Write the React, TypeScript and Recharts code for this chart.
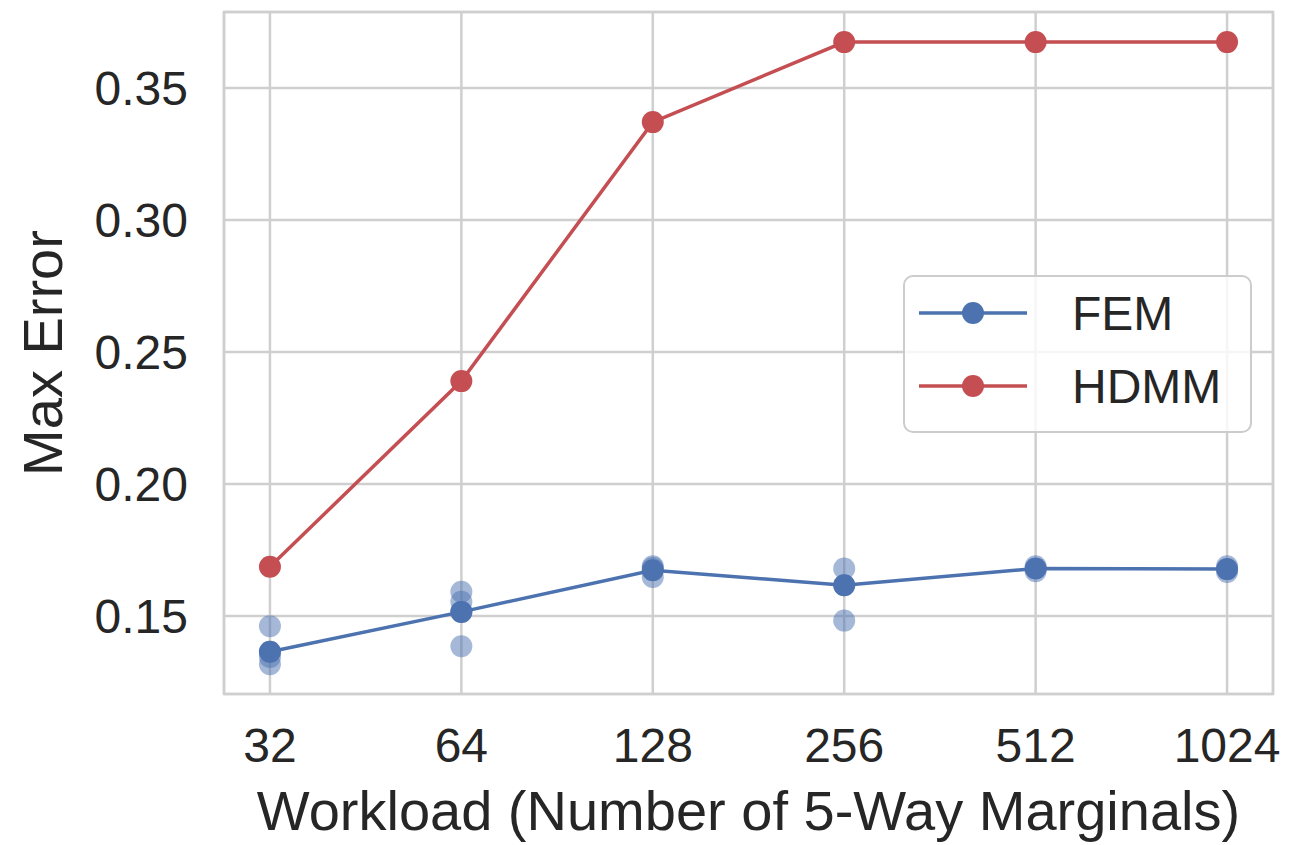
import React from "react";
import {
  ComposedChart,
  Line,
  Scatter,
  XAxis,
  YAxis,
  CartesianGrid,
  ReferenceArea,
} from "recharts";

const workloads = [32, 64, 128, 256, 512, 1024];
const femMean = [0.1365, 0.1516, 0.1674, 0.1617, 0.168, 0.1678];
const hdmmMean = [0.1687, 0.239, 0.3371, 0.3674, 0.3674, 0.3674];

// individual FEM runs (faint dots)
const femRunWorkloads = [32, 32, 32, 32, 64, 64, 64, 64, 128, 128, 128, 256, 256, 256, 512, 512, 1024, 1024];
const femRunErrors = [0.1462, 0.1318, 0.1345, 0.1365, 0.1592, 0.1554, 0.1516, 0.1386, 0.1689, 0.1682, 0.1648, 0.168, 0.1617, 0.1483, 0.1689, 0.167, 0.1689, 0.1667];

const yTicks = [0.15, 0.2, 0.25, 0.3, 0.35];

const BLUE = "#4C72B0";
const RED = "#C44E52";
const GRID = "#cfcfcf";
const TEXT = "#262626";
const FONT = "'Liberation Sans', Arial, sans-serif";

const femData = workloads.map((w, i) => ({ x: Math.log2(w), y: femMean[i] }));
const hdmmData = workloads.map((w, i) => ({ x: Math.log2(w), y: hdmmMean[i] }));
const femRuns = femRunWorkloads.map((w, i) => ({ x: Math.log2(w), y: femRunErrors[i] }));

const legendItems = [
  { name: "FEM", color: BLUE },
  { name: "HDMM", color: RED },
];

function LegendBox() {
  return (
    <svg width={349} height={158} style={{ display: "block" }}>
      <rect x={1} y={1} width={347} height={156} rx={9} fill="rgba(255,255,255,0.8)" stroke="#cccccc" strokeWidth={2} />
      {legendItems.map((it, i) => {
        const cy = 38 + i * 73;
        return (
          <g key={it.name}>
            <line x1={16} x2={124} y1={cy} y2={cy} stroke={it.color} strokeWidth={3.5} />
            <circle cx={70} cy={cy} r={11} fill={it.color} />
            <text x={169} y={cy} dy="0.36em" fontSize={48} fill={TEXT} fontFamily={FONT}>
              {it.name}
            </text>
          </g>
        );
      })}
    </svg>
  );
}

export default function App() {
  return (
    <div style={{ width: 1282, height: 837, position: "relative", background: "#fff" }}>
      <ComposedChart
        width={1282}
        height={837}
        margin={{ top: 4, right: 17, left: 0, bottom: 0 }}
      >
        <CartesianGrid stroke={GRID} strokeWidth={2.5} />
        <XAxis
          dataKey="x"
          type="number"
          domain={[4.76, 10.24]}
          ticks={workloads.map((w) => Math.log2(w))}
          tickFormatter={(v: number) => String(Math.round(Math.pow(2, v)))}
          height={151}
          axisLine={false}
          tickLine={false}
          tickSize={0}
          tickMargin={34}
          tick={{ fontSize: 48, fill: TEXT, fontFamily: FONT }}
          allowDataOverflow
          label={{
            value: "Workload (Number of 5-Way Marginals)",
            position: "insideBottom",
            offset: 15,
            style: { fontSize: 56, fill: TEXT, fontFamily: FONT },
          }}
        />
        <YAxis
          type="number"
          domain={[0.1205, 0.3788]}
          ticks={yTicks}
          tickFormatter={(v: number) => v.toFixed(2)}
          width={216}
          axisLine={false}
          tickLine={false}
          tickSize={0}
          tickMargin={36}
          tick={{ fontSize: 48, fill: TEXT, fontFamily: FONT }}
          allowDataOverflow
          label={{
            value: "Max Error",
            angle: -90,
            position: "insideLeft",
            offset: 34,
            style: { fontSize: 56, fill: TEXT, fontFamily: FONT, textAnchor: "middle" },
          }}
        />
        <ReferenceArea
          x1={4.76}
          x2={10.24}
          y1={0.1205}
          y2={0.3788}
          fill="none"
          stroke={GRID}
          strokeWidth={2.5}
          ifOverflow="visible"
        />
        <Scatter
          data={femRuns}
          dataKey="y"
          isAnimationActive={false}
          legendType="none"
          shape={(p: any) => <circle cx={p.cx} cy={p.cy} r={11} fill={BLUE} fillOpacity={0.5} />}
        />
        <Line
          data={femData}
          dataKey="y"
          name="FEM"
          stroke={BLUE}
          strokeWidth={3.5}
          dot={{ r: 11, fill: BLUE, stroke: "none" }}
          activeDot={false}
          isAnimationActive={false}
        />
        <Line
          data={hdmmData}
          dataKey="y"
          name="HDMM"
          stroke={RED}
          strokeWidth={3.5}
          dot={{ r: 11, fill: RED, stroke: "none" }}
          activeDot={false}
          isAnimationActive={false}
        />
      </ComposedChart>
      <div style={{ position: "absolute", left: 895, top: 267 }}>
        <LegendBox />
      </div>
    </div>
  );
}
